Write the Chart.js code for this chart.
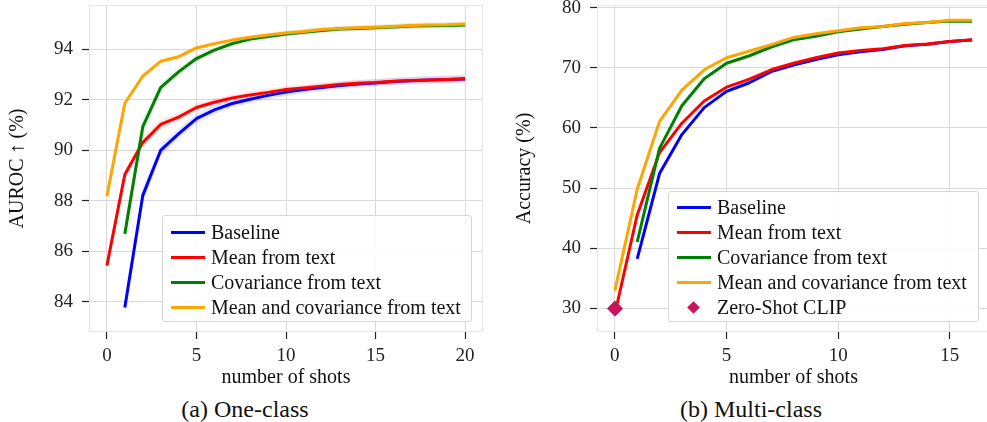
<!DOCTYPE html>
<html>
<head>
<meta charset="utf-8">
<script src="https://cdn.jsdelivr.net/npm/chart.js@4.4.1/dist/chart.umd.min.js"></script>
<style>
  html, body { margin:0; padding:0; background:#fff; }
  body { width:987px; height:422px; overflow:hidden; position:relative; font-family:'Liberation Serif','DejaVu Serif',serif; color:#111; }
  .panel { position:absolute; top:0; width:495px; height:392px; }
  .cap { position:absolute; font-size:24px; transform:translate(-50%,-50%); white-space:nowrap; }
  .legend { position:absolute; border:1px solid #d6d6d6; border-radius:3px; background:rgba(255,255,255,0.85); box-sizing:border-box; }
  .row { position:absolute; left:0; height:25px; font-size:20px; white-space:nowrap; }
  .row .ln { position:absolute; width:34px; height:3px; top:-1.5px; }
  .row .tx { position:absolute; top:-12px; line-height:24px; }
  .row .dm { position:absolute; width:9px; height:9px; transform:rotate(45deg); top:-4.5px; background:#c8155a; }
</style>
</head>
<body>
<div class="panel" style="left:0"><canvas id="c1" width="495" height="392"></canvas></div>
<div class="panel" style="left:500px"><canvas id="c2" width="495" height="392"></canvas></div>
<div class="cap" style="left:245px; top:409px">(a) One-class</div>
<div class="cap" style="left:751px; top:409px">(b) Multi-class</div>
<div id="legA" class="legend" style="left:162px; top:215px; width:310px; height:107px"></div>
<div id="legB" class="legend" style="left:668px; top:191px; width:311px; height:131px"></div>
<script>
// ---------- data: (a) One-class ----------
const shotsA = [0,1,2,3,4,5,6,7,8,9,10,11,12,13,14,15,16,17,18,19,20];
const baselineA = [null,83.77,88.2,89.99,90.65,91.25,91.6,91.85,92.02,92.17,92.3,92.4,92.48,92.56,92.62,92.66,92.72,92.75,92.78,92.8,92.82];
const meanA     = [85.43,89.04,90.3,91.02,91.31,91.69,91.9,92.07,92.19,92.29,92.4,92.46,92.53,92.6,92.65,92.68,92.73,92.76,92.78,92.8,92.83];
const covA      = [null,86.69,90.92,92.48,93.1,93.63,93.96,94.22,94.4,94.5,94.6,94.67,94.74,94.8,94.82,94.85,94.88,94.92,94.93,94.94,94.96];
const bothA     = [88.18,91.86,92.93,93.52,93.7,94.05,94.22,94.36,94.47,94.56,94.64,94.7,94.78,94.82,94.85,94.87,94.9,94.94,94.96,94.97,95.0];
const stdBaselineA = [null,0.4,0.3,0.22,0.2,0.18,0.17,0.16,0.16,0.15,0.15,0.15,0.15,0.15,0.15,0.15,0.15,0.15,0.15,0.15,0.15];
const stdMeanA     = [0.15,0.2,0.2,0.18,0.16,0.15,0.15,0.14,0.14,0.14,0.14,0.14,0.14,0.14,0.14,0.14,0.14,0.14,0.14,0.14,0.14];
const stdCovA      = [null,0.5,0.3,0.2,0.15,0.13,0.12,0.12,0.12,0.12,0.12,0.12,0.12,0.12,0.12,0.12,0.12,0.12,0.12,0.12,0.12];
const stdBothA     = [0.1,0.12,0.12,0.1,0.1,0.1,0.1,0.1,0.1,0.1,0.1,0.1,0.1,0.1,0.1,0.1,0.1,0.1,0.1,0.1,0.1];
const xTicksA = [0,5,10,15,20];
const yTicksA = [84,86,88,90,92,94];

// ---------- data: (b) Multi-class ----------
const shotsB = [0,1,2,3,4,5,6,7,8,9,10,11,12,13,14,15,16];
const baselineB = [null,38.2,52.4,58.9,63.4,66.1,67.5,69.4,70.5,71.4,72.2,72.7,73.1,73.7,73.95,74.4,74.65];
const meanB     = [29.0,45.5,55.9,60.8,64.5,66.8,68.1,69.7,70.8,71.7,72.5,72.9,73.2,73.75,74.0,74.4,74.7];
const covB      = [null,41.0,56.6,63.7,68.2,70.8,72.0,73.5,74.7,75.3,76.05,76.5,76.9,77.3,77.6,77.85,77.8];
const bothB     = [32.9,49.8,61.1,66.3,69.7,71.7,72.8,73.9,75.1,75.7,76.2,76.7,76.9,77.4,77.6,77.95,77.95];
const clipX = [0];
const clipY = [29.9];
const xTicksB = [0,5,10,15];
const yTicksB = [30,40,50,60,70,80];

const seriesNames = ['Baseline','Mean from text','Covariance from text','Mean and covariance from text'];
const seriesColors = ['#0000ff','#ff0000','#008000','#ffa500'];
const bandColors = ['rgba(0,0,255,0.10)','rgba(255,0,0,0.10)','rgba(0,128,0,0.10)','rgba(255,165,0,0.10)'];
const clipName = 'Zero-Shot CLIP';
const clipColor = '#c8155a';

const FONT = "'Liberation Serif','DejaVu Serif',serif";

function pts(xs, ys) { return xs.map((x,i)=>({x:x, y:ys[i]})).filter(p=>p.y!==null); }
function band(xs, ys, sd, sign) { return xs.map((x,i)=>({x:x, y:(ys[i]===null?null:ys[i]+sign*sd[i])})).filter(p=>p.y!==null); }

const borderPlugin = {
  id:'areaBorder',
  beforeDatasetsDraw(chart) {
    const {ctx, chartArea:a} = chart;
    ctx.save(); ctx.strokeStyle = '#e6e6e6'; ctx.lineWidth = 1;
    ctx.strokeRect(a.left+0.5, a.top+0.5, a.right-a.left-1, a.bottom-a.top-1);
    ctx.restore();
  }
};

function makeOptions(cfg) {
  return {
    responsive:false, animation:false,
    layout:{ autoPadding:false, padding:{ left:0, top:5, right:cfg.padRight, bottom:0 } },
    plugins:{ legend:{display:false}, tooltip:{enabled:false} },
    elements:{ point:{ radius:0 }, line:{ tension:0, borderWidth:3, borderCapStyle:'butt', borderJoinStyle:'round' } },
    scales:{
      x:{ type:'linear', min:cfg.xmin, max:cfg.xmax,
          afterBuildTicks(s){ s.ticks = cfg.xticks.map(v=>({value:v})); },
          afterFit(s){ s.height = 60; s.paddingLeft = 0; s.paddingRight = 0; s.paddingTop = 0; s.paddingBottom = 0; },
          grid:{ color:'#d9d9d9', lineWidth:1, drawTicks:true, tickLength:7, tickColor:'#222', tickWidth:1.2 },
          border:{ display:false },
          ticks:{ padding:6, color:'#222', font:{ family:FONT, size:19 }, maxRotation:0 },
          title:{ display:true, text:'number of shots', color:'#111', font:{ family:FONT, size:20 }, padding:{ top:0, bottom:2 } } },
      y:{ type:'linear', min:cfg.ymin, max:cfg.ymax,
          afterBuildTicks(s){ s.ticks = cfg.yticks.map(v=>({value:v})); },
          afterFit(s){ s.width = cfg.yWidth; s.paddingLeft = 0; s.paddingRight = 0; s.paddingTop = 0; s.paddingBottom = 0; },
          grid:{ color:'#d9d9d9', lineWidth:1, drawTicks:true, tickLength:7, tickColor:'#222', tickWidth:1.2 },
          border:{ display:false },
          ticks:{ padding:9, color:'#222', font:{ family:FONT, size:19 } },
          title:{ display:true, text:cfg.ytitle, color:'#111', font:{ family:FONT, size:20 }, padding:{ top:cfg.ytitlePad, bottom:0 } } }
    }
  };
}

// ---------- chart (a) ----------
const dataA = [baselineA, meanA, covA, bothA];
const stdA = [stdBaselineA, stdMeanA, stdCovA, stdBothA];
const dsA = [];
dataA.forEach((d,k)=>{
  dsA.push({ label:seriesNames[k]+' upper', data:band(shotsA,d,stdA[k],1), borderWidth:0, borderColor:'transparent', backgroundColor:bandColors[k], fill:'+1', order:20+k });
  dsA.push({ label:seriesNames[k]+' lower', data:band(shotsA,d,stdA[k],-1), borderWidth:0, borderColor:'transparent', backgroundColor:bandColors[k], fill:false, order:20+k });
});
dataA.forEach((d,k)=>{
  dsA.push({ label:seriesNames[k], data:pts(shotsA,d), borderColor:seriesColors[k], backgroundColor:seriesColors[k], fill:false, order:4-k });
});
new Chart(document.getElementById('c1'), {
  type:'line', data:{ datasets:dsA },
  options:makeOptions({ xmin:-1, xmax:21, ymin:82.8, ymax:95.75, xticks:xTicksA, yticks:yTicksA, yWidth:89, padRight:12, ytitle:'AUROC \u2191 (%)', ytitlePad:6 }),
  plugins:[borderPlugin]
});

// ---------- chart (b) ----------
const dataB = [baselineB, meanB, covB, bothB];
const dsB = dataB.map((d,k)=>({ label:seriesNames[k], data:pts(shotsB,d), borderColor:seriesColors[k], backgroundColor:seriesColors[k], fill:false, order:5-k }));
dsB.push({ type:'scatter', label:clipName, data:pts(clipX,clipY), pointStyle:'rectRot', pointRadius:7.5, backgroundColor:clipColor, borderColor:clipColor, borderWidth:1, showLine:false, order:0 });
new Chart(document.getElementById('c2'), {
  type:'line', data:{ datasets:dsB },
  options:makeOptions({ xmin:-0.8, xmax:16.8, ymin:26.0, ymax:80.5, xticks:xTicksB, yticks:yTicksB, yWidth:97, padRight:5, ytitle:'Accuracy (%)', ytitlePad:13 }),
  plugins:[borderPlugin]
});

// ---------- HTML legends ----------
function buildLegend(id, items, firstRow) {
  const el = document.getElementById(id);
  items.forEach((it,i)=>{
    const r = document.createElement('div'); r.className='row';
    r.style.top = (firstRow + i*25) + 'px';
    if (it.diamond) {
      const d = document.createElement('div'); d.className='dm'; d.style.left='20px'; d.style.background = it.color; r.appendChild(d);
    } else {
      const l = document.createElement('div'); l.className='ln'; l.style.left='8px'; l.style.background = it.color; r.appendChild(l);
    }
    const t = document.createElement('div'); t.className='tx'; t.style.left='48px'; t.textContent = it.name; r.appendChild(t);
    el.appendChild(r);
  });
}
buildLegend('legA', seriesNames.map((n,k)=>({name:n, color:seriesColors[k]})), 16);
buildLegend('legB', seriesNames.map((n,k)=>({name:n, color:seriesColors[k]})).concat([{name:clipName, color:clipColor, diamond:true}]), 15);
</script>
</body>
</html>
